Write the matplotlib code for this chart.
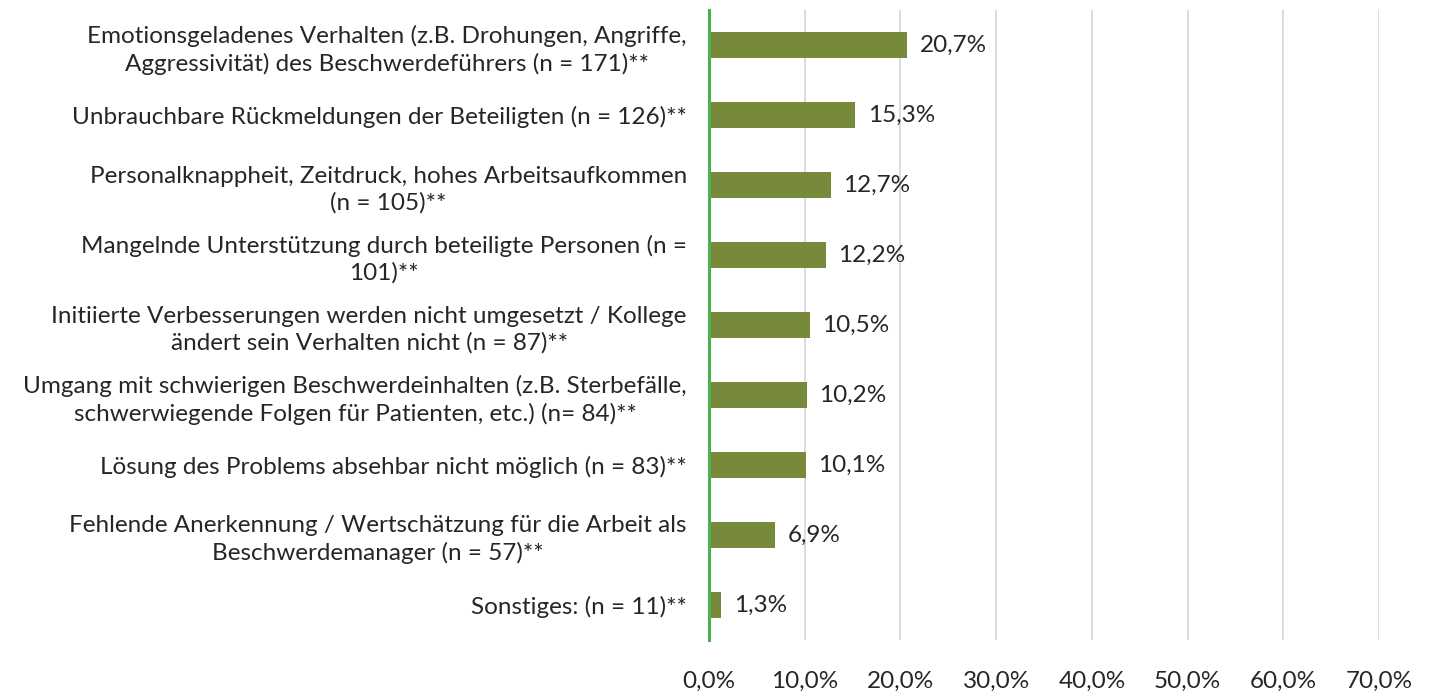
import matplotlib.pyplot as plt
import numpy as np

plt.rcParams['font.family'] = ['Lato', 'DejaVu Sans']

categories = [
    "Emotionsgeladenes Verhalten (z.B. Drohungen, Angriffe,\nAggressivität) des Beschwerdeführers (n = 171)**",
    "Unbrauchbare Rückmeldungen der Beteiligten (n = 126)**",
    "Personalknappheit, Zeitdruck, hohes Arbeitsaufkommen\n(n = 105)**",
    "Mangelnde Unterstützung durch beteiligte Personen (n =\n101)**",
    "Initiierte Verbesserungen werden nicht umgesetzt / Kollege\nändert sein Verhalten nicht (n = 87)**",
    "Umgang mit schwierigen Beschwerdeinhalten (z.B. Sterbefälle,\nschwerwiegende Folgen für Patienten, etc.) (n= 84)**",
    "Lösung des Problems absehbar nicht möglich (n = 83)**",
    "Fehlende Anerkennung / Wertschätzung für die Arbeit als\nBeschwerdemanager (n = 57)**",
    "Sonstiges: (n = 11)**",
]
values = [20.7, 15.3, 12.7, 12.2, 10.5, 10.2, 10.1, 6.9, 1.3]
xticks = [0, 10, 20, 30, 40, 50, 60, 70]

fig = plt.figure(figsize=(14.3, 6.93), dpi=100)
ax = fig.add_axes([709/1430, 53/693, (1379-709)/1430, 630/693])

y = np.arange(len(values))
ax.barh(y, values, height=0.36, color='#77893B', zorder=3)
for yi, v in zip(y, values):
    ax.text(v + 1.3, yi, f"{v:.1f}%".replace('.', ','), va='center', ha='left',
            fontsize=17.5, color='#262626')

ax.set_ylim(len(values) - 0.5, -0.5)
ax.set_xlim(0, 70)
ax.set_yticks(y)
ax.set_yticklabels(categories, fontsize=17.5, color='#262626', multialignment='center', linespacing=1.3)
ax.set_xticks(xticks)
ax.set_xticklabels([f"{t:.1f}%".replace('.', ',') for t in xticks], fontsize=17.5, color='#262626')
ax.tick_params(axis='both', length=0)
ax.tick_params(axis='y', pad=16)
ax.tick_params(axis='x', pad=22)

ax.grid(axis='x', color='#D9D9D9', linewidth=1.3, zorder=0)
for s in ['top', 'right', 'bottom']:
    ax.spines[s].set_visible(False)
ax.spines['left'].set_color('#4CB050')
ax.spines['left'].set_linewidth(2.2)
ax.spines['left'].set_zorder(4)

fig.savefig('out.png', dpi=100)
